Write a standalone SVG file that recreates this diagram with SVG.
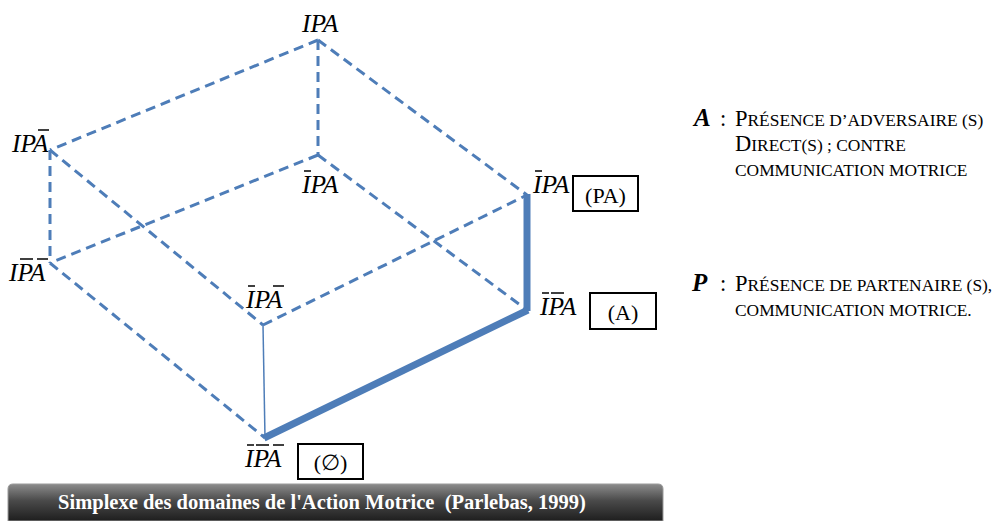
<svg xmlns="http://www.w3.org/2000/svg" width="995" height="521" viewBox="0 0 995 521">
<defs>
<linearGradient id="bg" x1="0" y1="0" x2="0" y2="1">
<stop offset="0" stop-color="#8c8c8c"/>
<stop offset="0.45" stop-color="#4a4a4a"/>
<stop offset="1" stop-color="#1e1e1e"/>
</linearGradient>
<style>
.d{stroke:#4e7db8;stroke-width:3;stroke-dasharray:10 6;fill:none}
.t{stroke:#4e7db8;stroke-width:7;fill:none;stroke-linecap:butt}
.n{stroke:#4e7db8;stroke-width:1.5;fill:none}
.lab{font-family:"Liberation Serif","DejaVu Serif",serif;font-style:italic;font-size:25.5px;fill:#000}
.bar{stroke:#000;stroke-width:1.5}
.box{fill:#fff;stroke:#000;stroke-width:2}
.bt{font-family:"Liberation Serif","DejaVu Serif",serif;font-size:22px;fill:#000;text-anchor:middle}
.lg{font-family:"Liberation Serif",serif;font-size:17.4px;fill:#000}
.cap{font-size:22.5px}
.key{font-family:"Liberation Serif",serif;font-size:25px;font-weight:bold;font-style:italic;fill:#000}
</style>
</defs>
<rect width="995" height="521" fill="#fff"/>
<g id="connectors">
<line class="d" x1="318" y1="40" x2="50" y2="150"/>
<line class="d" x1="318" y1="40" x2="527" y2="195"/>
<line class="d" x1="318" y1="40" x2="318" y2="155"/>
<line class="d" x1="50" y1="150" x2="50" y2="263"/>
<line class="d" x1="50" y1="150" x2="263" y2="325"/>
<line class="d" x1="318" y1="155" x2="50" y2="263"/>
<line class="d" x1="318" y1="155" x2="527" y2="310"/>
<line class="d" x1="50" y1="263" x2="265" y2="438"/>
<line class="d" x1="263" y1="325" x2="527" y2="195"/>
<line class="n" x1="263" y1="325" x2="265" y2="438"/>
<line class="t" x1="527" y1="194" x2="527" y2="311"/>
<line class="t" x1="528" y1="310" x2="264" y2="438"/>
</g>
<g id="n-IPA">
<text class="lab" x="302" y="32">IPA</text>
</g>
<g id="n-IPnA">
<text class="lab" x="12" y="152">IPA</text>
<line class="bar" x1="38" y1="130" x2="49" y2="130"/>
</g>
<g id="n-InPA">
<text class="lab" x="302" y="193">IPA</text>
<line class="bar" x1="304" y1="171" x2="311" y2="171"/>
</g>
<g id="n-IPnAn">
<text class="lab" x="9" y="281">IPA</text>
<line class="bar" x1="20" y1="259" x2="33" y2="259"/>
<line class="bar" x1="37" y1="259" x2="48" y2="259"/>
</g>
<g id="n-nIPnA">
<text class="lab" x="246" y="308">IPA</text>
<line class="bar" x1="248" y1="286" x2="255" y2="286"/>
<line class="bar" x1="273" y1="286" x2="284" y2="286"/>
</g>
<g id="n-PA">
<text class="lab" x="533" y="193">IPA</text>
<line class="bar" x1="535" y1="171" x2="542" y2="171"/>
<rect class="box" x="573" y="176" width="65" height="35"/>
<text class="bt" x="605.5" y="203">(PA)</text>
</g>
<g id="n-A">
<text class="lab" x="540" y="315">IPA</text>
<line class="bar" x1="542" y1="293" x2="549" y2="293"/>
<line class="bar" x1="551" y1="293" x2="564" y2="293"/>
<rect class="box" x="590" y="293" width="66" height="36"/>
<text class="bt" x="623" y="320">(A)</text>
</g>
<g id="n-empty">
<text class="lab" x="245" y="467">IPA</text>
<line class="bar" x1="247" y1="445" x2="254" y2="445"/>
<line class="bar" x1="256" y1="445" x2="269" y2="445"/>
<line class="bar" x1="273" y1="445" x2="284" y2="445"/>
<rect class="box" x="298" y="444" width="65" height="35"/>
<text class="bt" x="330.5" y="470">(∅)</text>
</g>
<g id="legend-A">
<text class="key" x="694" y="126">A</text>
<text class="lg cap" x="720" y="126">:</text>
<text class="lg" x="735" y="126"><tspan class="cap">P</tspan>RÉSENCE D’ADVERSAIRE (S)</text>
<text class="lg" x="735" y="151"><tspan class="cap">D</tspan>IRECT(S) ; CONTRE</text>
<text class="lg" x="735" y="176">COMMUNICATION MOTRICE</text>
</g>
<g id="legend-P">
<text class="key" x="692" y="291">P</text>
<text class="lg cap" x="720" y="291">:</text>
<text class="lg" x="735" y="291"><tspan class="cap">P</tspan>RÉSENCE DE PARTENAIRE (S),</text>
<text class="lg" x="735" y="316">COMMUNICATION MOTRICE.</text>
</g>
<g id="banner">
<path d="M8,521 V489 Q8,484 13,484 H658 Q663,484 663,489 V521 Z" fill="url(#bg)" stroke="#9a9a9a" stroke-width="1"/>
<text x="322" y="509" text-anchor="middle" font-family="Liberation Serif, serif" font-weight="bold" font-size="20.5" fill="#fff" style="white-space:pre">Simplexe des domaines de l'Action Motrice  (Parlebas, 1999)</text>
</g>
</svg>
